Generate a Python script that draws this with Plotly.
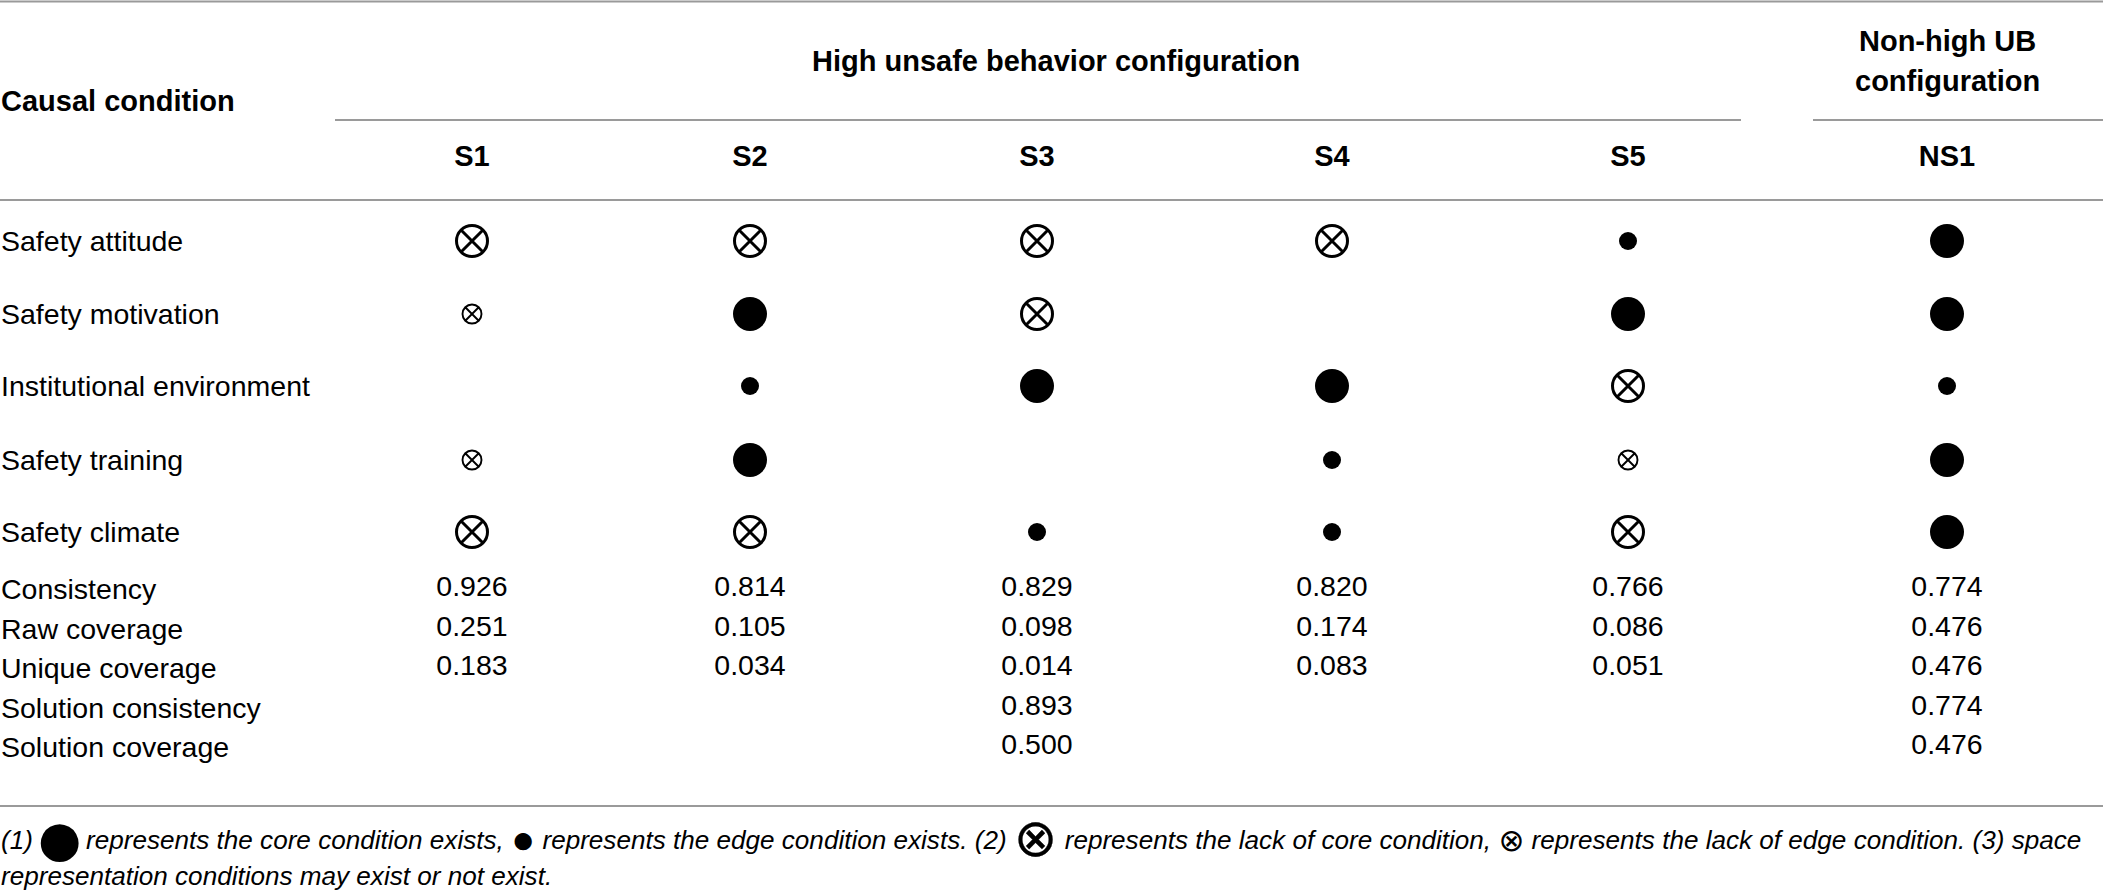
import plotly.graph_objects as go

# ---------------- data ----------------
columns = ["S1", "S2", "S3", "S4", "S5", "NS1"]
group_high = "High unsafe behavior configuration"
group_non_lines = ["Non-high UB", "configuration"]
row_header = "Causal condition"

conditions = ["Safety attitude", "Safety motivation", "Institutional environment",
              "Safety training", "Safety climate"]
# C = core condition exists, P = edge condition exists,
# c = lack of core condition, p = lack of edge condition, "" = may exist or not
safety_attitude = ["c", "c", "c", "c", "P", "C"]
safety_motivation = ["p", "C", "c", "", "C", "C"]
institutional_environment = ["", "P", "C", "C", "c", "P"]
safety_training = ["p", "C", "", "P", "p", "C"]
safety_climate = ["c", "c", "P", "P", "c", "C"]
condition_codes = [safety_attitude, safety_motivation, institutional_environment,
                   safety_training, safety_climate]

metrics = ["Consistency", "Raw coverage", "Unique coverage",
           "Solution consistency", "Solution coverage"]
consistency = ["0.926", "0.814", "0.829", "0.820", "0.766", "0.774"]
raw_coverage = ["0.251", "0.105", "0.098", "0.174", "0.086", "0.476"]
unique_coverage = ["0.183", "0.034", "0.014", "0.083", "0.051", "0.476"]
solution_consistency = ["", "", "0.893", "", "", "0.774"]
solution_coverage = ["", "", "0.500", "", "", "0.476"]
metric_values = [consistency, raw_coverage, unique_coverage,
                 solution_consistency, solution_coverage]

BIG_DOT = "<span style='font-size:88px;baseline-shift:-19px'>●</span>"
SMALL_DOT = "<span style='font-size:40px;baseline-shift:-4px'>●</span>"
BIG_OX = ("<span style='font-family:DejaVu Sans;font-size:52px;"
          "baseline-shift:-7px;stroke:black;stroke-width:0.3px'>⊗</span>")
SMALL_OX = "<span style='font-family:DejaVu Sans;font-size:31px;baseline-shift:-2px'>⊗</span>"
footnote_lines = [
    f"<i>(1)</i>{BIG_DOT}<i>represents the core condition exists, </i>{SMALL_DOT}<i> represents "
    f"the edge condition exists. (2) </i>{BIG_OX}<i> represents the lack of core condition, </i>"
    f"{SMALL_OX}<i> represents the lack of edge condition. (3) space</i>",
    "<i>representation conditions may exist or not exist.</i>",
]

# ---------------- layout constants ----------------
W, H = 2103, 891
col_x = [472, 750, 1037, 1332, 1628, 1947]
header_y = 159
cond_y = [241, 314, 386, 460, 532]
metric_y = [589, 629, 668, 708, 747]
foot_y = [837, 876]
FONT = "Liberation Sans, Arial, Helvetica, sans-serif"
FS = 28.5
FS_B = 29
FS_F = 26.1
LINE = "#9a9a9a"

sym_style = {
    "C": dict(symbol="circle", size=34, color="black", line=dict(width=0)),
    "P": dict(symbol="circle", size=18, color="black", line=dict(width=0)),
    "c": dict(symbol="circle-x-open", size=31, color="black", line=dict(width=3, color="black")),
    "p": dict(symbol="circle-x-open", size=19, color="black", line=dict(width=1.9, color="black")),
}

fig = go.Figure()

# symbols
for code, st in sym_style.items():
    xs, ys = [], []
    for ri, row in enumerate(condition_codes):
        for ci, v in enumerate(row):
            if v == code:
                xs.append(col_x[ci])
                ys.append(cond_y[ri])
    fig.add_trace(go.Scatter(x=xs, y=ys, mode="markers", marker=st,
                             hoverinfo="skip", showlegend=False))

# metric values
for ri, row in enumerate(metric_values):
    fig.add_trace(go.Scatter(
        x=col_x, y=[metric_y[ri]] * len(col_x), mode="text", text=row,
        textposition="middle center", textfont=dict(family=FONT, size=FS, color="black"),
        hoverinfo="skip", showlegend=False))

# column headers
fig.add_trace(go.Scatter(
    x=col_x, y=[header_y] * len(col_x), mode="text", text=[f"<b>{c}</b>" for c in columns],
    textposition="middle center", textfont=dict(family=FONT, size=FS_B, color="black"),
    hoverinfo="skip", showlegend=False))

annots = []
for lab, y in zip(conditions + metrics, cond_y + metric_y):
    annots.append(dict(x=0, y=y, text=lab, xanchor="left", yanchor="middle",
                       font=dict(family=FONT, size=FS, color="black")))
annots.append(dict(x=1056, y=61, text=f"<b>{group_high}</b>", xanchor="center",
                   yanchor="middle", font=dict(family=FONT, size=FS_B, color="black")))
for t, y in zip(group_non_lines, [41, 81]):
    annots.append(dict(x=1947, y=y, text=f"<b>{t}</b>", xanchor="center",
                       yanchor="middle", font=dict(family=FONT, size=FS_B, color="black")))
annots.append(dict(x=0, y=101, text=f"<b>{row_header}</b>", xanchor="left",
                   yanchor="middle", font=dict(family=FONT, size=FS_B, color="black")))
for t, y in zip(footnote_lines, foot_y):
    annots.append(dict(x=0, y=y, text=t, xanchor="left", yanchor="middle", align="left",
                       font=dict(family=FONT, size=FS_F, color="black")))
for a in annots:
    a.update(xref="x", yref="y", showarrow=False, borderpad=0)
fig.update_layout(annotations=annots)

rules = [(0, W, 1.5), (335, 1741, 120), (1813, W, 120), (0, W, 200), (0, W, 806)]
for x0, x1, y in rules:
    fig.add_shape(type="line", x0=x0, x1=x1, y0=y, y1=y, xref="x", yref="y",
                  line=dict(color=LINE, width=2.2))

fig.update_layout(
    width=W, height=H, margin=dict(l=0, r=0, t=0, b=0),
    paper_bgcolor="white", plot_bgcolor="white",
    xaxis=dict(range=[0, W], visible=False, fixedrange=True),
    yaxis=dict(range=[H, 0], visible=False, fixedrange=True),
)
fig.write_html("out.html", config={"displayModeBar": False},
               post_script="document.body.style.margin='0px';document.body.style.overflow='hidden';")
